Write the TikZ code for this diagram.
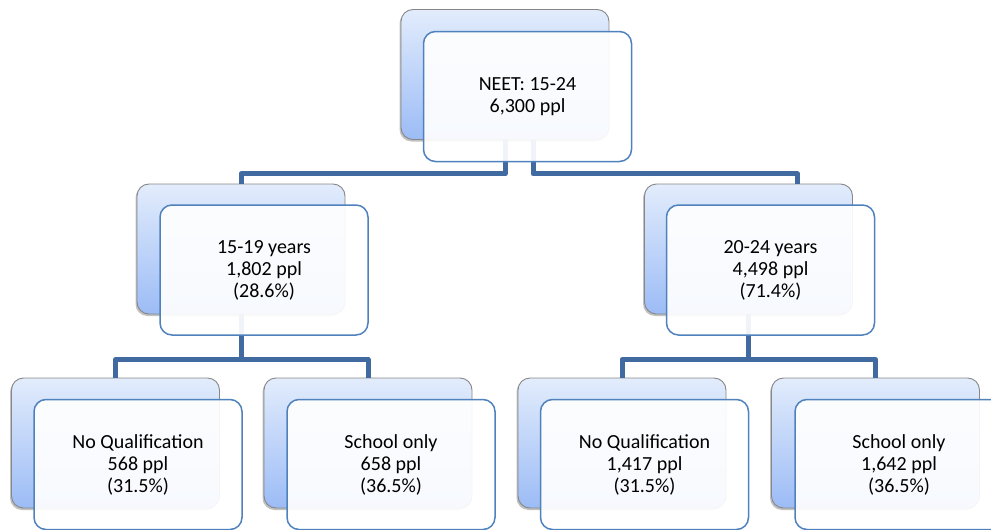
\documentclass[tikz,border=0pt]{standalone}
\usepackage{fontspec}
\setmainfont{Carlito}
\usetikzlibrary{shadows}
\definecolor{connblue}{RGB}{64,106,160}
\definecolor{frontblue}{RGB}{79,129,189}
\definecolor{backtop}{RGB}{226,236,252}
\definecolor{backbot}{RGB}{156,188,246}
\definecolor{backedge}{RGB}{135,135,135}
\begin{document}
\begin{tikzpicture}[x=1pt,y=-1pt,
  backbox/.style={draw=backedge, line width=0.9pt, rounded corners=12pt,
    top color=backtop, bottom color=backbot,
    minimum width=208pt, minimum height=130pt, inner sep=0pt,
    drop shadow={shadow xshift=-1.5pt, shadow yshift=-2pt, opacity=.35, fill=black!70}},
  frontbox/.style={draw=frontblue, line width=1.5pt, rounded corners=12pt,
    fill=white, fill opacity=0.92, text opacity=1,
    minimum width=208pt, minimum height=130pt, inner sep=0pt,
    align=center, font=\fontsize{20}{22}\selectfont},
  link/.style={draw=connblue, line width=5pt, line join=round}]
\useasboundingbox (0,0) rectangle (991,530);

% back boxes
\node[backbox] (b0) at (505,74.5) {};
\node[backbox] (bl) at (241,249) {};
\node[backbox] (br) at (748.5,249) {};
\node[backbox] (b1) at (115.5,443) {};
\node[backbox] (b2) at (368,443) {};
\node[backbox] (b3) at (622,443) {};
\node[backbox] (b4) at (875.5,443) {};

% connectors
\draw[link] (b0.south) -- ++(0,34) -| (bl.north);
\draw[link] ([xshift=28pt]b0.south) -- ++(0,34) -| ([xshift=49pt]br.north);
\draw[link] (bl.south) -- ++(0,45) coordinate (jl);
\draw[link] (b1.north) |- (jl) -| (b2.north);
\draw[link] (br.south) -- ++(0,45) coordinate (jr);
\draw[link] (b3.north) |- (jr) -| (b4.north);

% front boxes
\node[frontbox] (f0) at (527.5,96.5) {NEET: 15-24\\6,300 ppl};
\node[frontbox] (fl) at (264,270) {15-19 years\\1,802 ppl\\(28.6\%)};
\node[frontbox] (fr) at (770.5,270) {20-24 years\\4,498 ppl\\(71.4\%)};
\node[frontbox] (f1) at (138,464.5) {No Qualification\\568 ppl\\(31.5\%)};
\node[frontbox] (f2) at (391,464.5) {School only\\658 ppl\\(36.5\%)};
\node[frontbox] (f3) at (644.5,464.5) {No Qualification\\1,417 ppl\\(31.5\%)};
\node[frontbox] (f4) at (899,464.5) {School only\\1,642 ppl\\(36.5\%)};
\end{tikzpicture}
\end{document}
